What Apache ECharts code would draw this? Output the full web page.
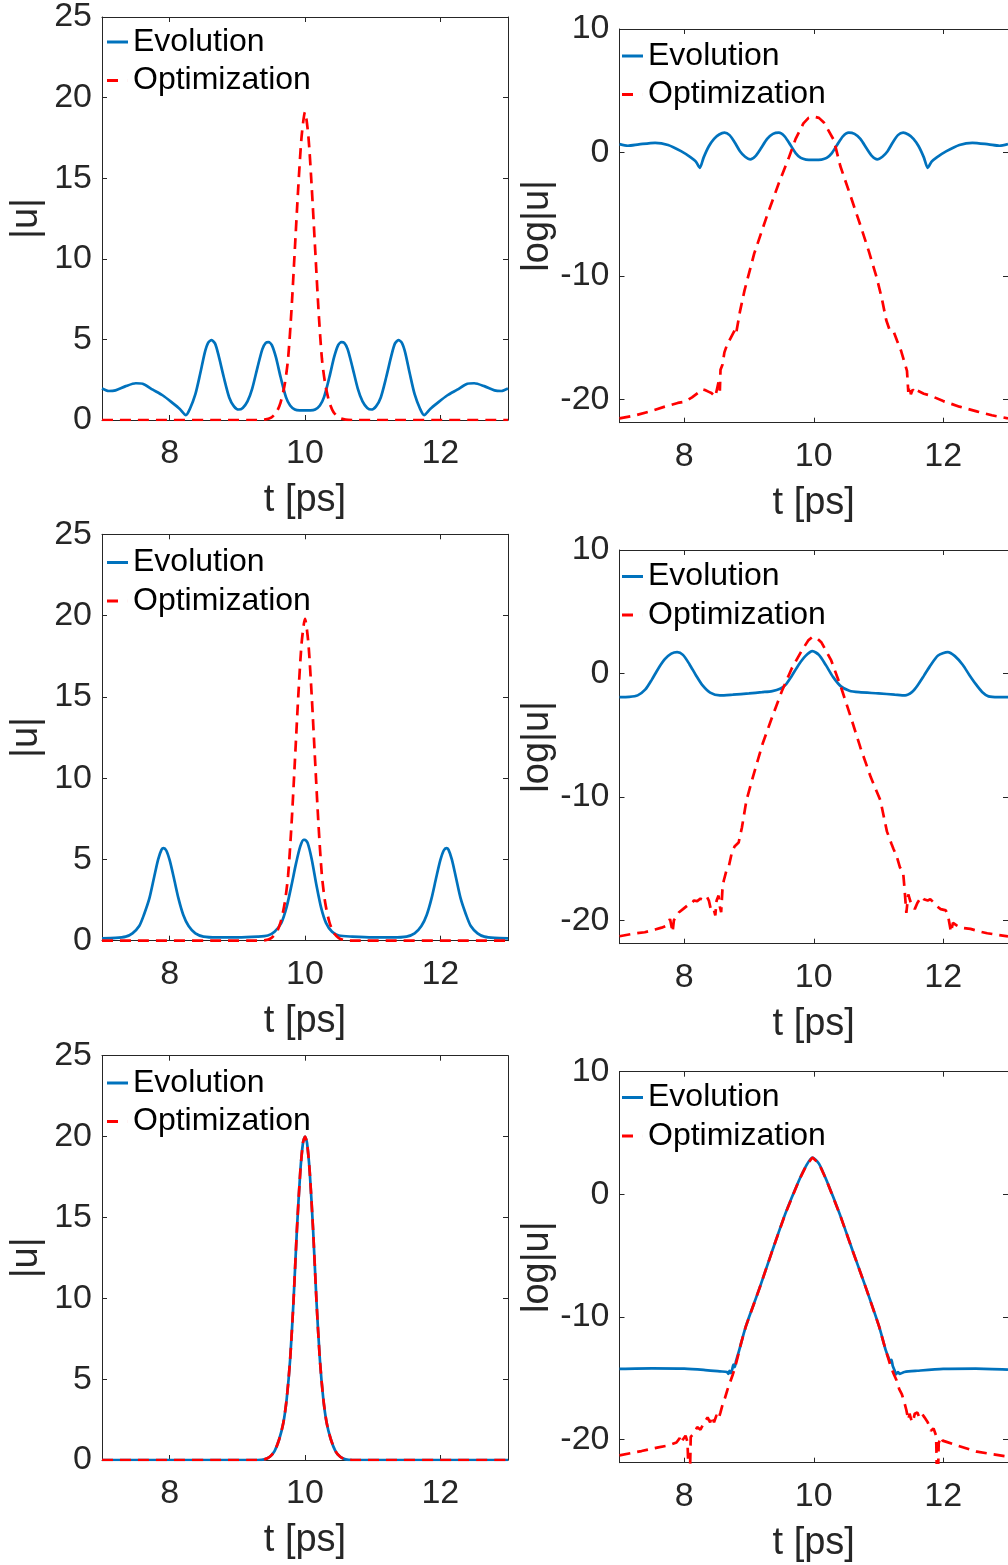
<!DOCTYPE html>
<html>
<head>
<meta charset="utf-8">
<script src="https://cdn.jsdelivr.net/npm/echarts@6/dist/echarts.min.js"></script>
<style>
html,body{margin:0;padding:0;background:#fff;overflow:hidden;}
#chart{width:1008px;height:1565px;}
</style>
</head>
<body>
<div id="chart"></div>
<script>
// ---------------- DATA ----------------
const tTicks = [8, 10, 12];
const linTicks = [0, 5, 10, 15, 20, 25];
const logTicks = [-20, -10, 0, 10];
const seriesNames = ['Evolution', 'Optimization'];
const xLabel = 't [ps]';
const yLabelLin = '|u|';
const yLabelLog = 'log|u|';

// Row 1, |u|
const r1LinEvo = [[7.00,1.95],[7.10,1.80],[7.20,1.84],[7.35,2.10],[7.50,2.28],[7.60,2.25],[7.75,1.88],[7.90,1.52],[8.05,1.03],[8.15,0.68],[8.24,0.30],[8.30,0.70],[8.38,1.60],[8.45,2.85],[8.52,4.20],[8.57,4.80],[8.62,4.95],[8.67,4.75],[8.72,4.05],[8.80,2.65],[8.88,1.40],[8.95,0.85],[9.02,0.65],[9.08,0.75],[9.15,1.15],[9.22,1.95],[9.30,3.30],[9.37,4.40],[9.42,4.78],[9.46,4.83],[9.51,4.65],[9.57,3.90],[9.64,2.65],[9.72,1.40],[9.78,0.90],[9.85,0.65],[9.92,0.60],[10.00,0.60],[10.08,0.60],[10.15,0.65],[10.22,0.90],[10.28,1.40],[10.36,2.65],[10.43,3.90],[10.49,4.65],[10.54,4.83],[10.58,4.78],[10.63,4.40],[10.70,3.30],[10.78,1.95],[10.85,1.15],[10.92,0.75],[10.98,0.65],[11.05,0.85],[11.12,1.40],[11.20,2.65],[11.28,4.05],[11.33,4.75],[11.38,4.95],[11.43,4.80],[11.48,4.20],[11.55,2.85],[11.62,1.60],[11.70,0.70],[11.76,0.30],[11.85,0.68],[11.95,1.03],[12.10,1.52],[12.25,1.88],[12.40,2.25],[12.50,2.28],[12.65,2.10],[12.80,1.84],[12.90,1.80],[13.00,1.95]];
const r1LinOpt = [[7.00,0],[9.30,0],[9.40,0.02],[9.50,0.15],[9.58,0.50],[9.64,1.10],[9.70,2.20],[9.75,3.80],[9.80,6.80],[9.85,10.60],[9.90,14.40],[9.95,17.60],[10.00,19.10],[10.05,17.60],[10.10,14.40],[10.15,10.60],[10.20,6.80],[10.25,3.80],[10.30,2.20],[10.36,1.10],[10.42,0.50],[10.50,0.15],[10.60,0.02],[10.70,0],[13.00,0]];

// Row 1, log|u|
const r1LogEvo = [[7.00,0.67],[7.13,0.54],[7.30,0.65],[7.55,0.78],[7.75,0.60],[7.95,0.10],[8.10,-0.40],[8.18,-0.75],[8.24,-1.25],[8.30,-0.40],[8.38,0.50],[8.46,1.10],[8.54,1.45],[8.62,1.60],[8.70,1.40],[8.78,0.80],[8.86,0.10],[8.94,-0.35],[9.02,-0.57],[9.10,-0.30],[9.18,0.30],[9.28,1.10],[9.37,1.50],[9.46,1.60],[9.55,1.30],[9.64,0.60],[9.72,-0.05],[9.80,-0.45],[9.88,-0.58],[10.00,-0.60],[10.12,-0.58],[10.20,-0.45],[10.28,-0.05],[10.36,0.60],[10.45,1.30],[10.54,1.60],[10.63,1.50],[10.72,1.10],[10.82,0.30],[10.90,-0.30],[10.98,-0.57],[11.06,-0.35],[11.14,0.10],[11.22,0.80],[11.30,1.40],[11.38,1.60],[11.46,1.45],[11.54,1.10],[11.62,0.50],[11.70,-0.40],[11.76,-1.25],[11.82,-0.75],[11.90,-0.40],[12.05,0.10],[12.25,0.60],[12.45,0.78],[12.70,0.65],[12.87,0.54],[13.00,0.67]];
const r1LogOpt = [[7.00,-21.55],[7.25,-21.30],[7.46,-21.00],[7.70,-20.60],[7.90,-20.30],[8.01,-20.20],[8.12,-19.85],[8.22,-19.45],[8.28,-19.20],[8.32,-19.25],[8.35,-19.15],[8.38,-19.40],[8.42,-19.50],[8.45,-19.45],[8.48,-19.80],[8.51,-19.70],[8.53,-18.60],[8.55,-19.30],[8.56,-17.60],[8.59,-17.20],[8.62,-16.20],[8.66,-15.60],[8.72,-15.00],[8.76,-14.60],[8.78,-14.40],[8.80,-14.70],[8.86,-12.90],[8.93,-11.20],[9.08,-8.20],[9.28,-5.10],[9.46,-2.50],[9.61,-0.50],[9.72,1.10],[9.84,2.35],[9.92,2.80],[10.00,2.90],[10.08,2.80],[10.16,2.40],[10.31,1.00],[10.41,-1.10],[10.56,-3.40],[10.72,-5.90],[10.85,-8.00],[10.97,-10.10],[11.05,-11.80],[11.12,-13.60],[11.18,-14.50],[11.21,-14.35],[11.24,-14.60],[11.29,-15.30],[11.35,-16.10],[11.40,-17.00],[11.44,-17.70],[11.46,-19.40],[11.48,-18.90],[11.50,-19.60],[11.53,-19.20],[11.56,-19.50],[11.60,-19.30],[11.70,-19.55],[11.80,-19.70],[12.00,-20.15],[12.25,-20.60],[12.53,-21.00],[12.75,-21.30],[13.00,-21.55]];

// Row 2, |u|
const r2LinEvo = [[7.00,0.14],[7.20,0.17],[7.35,0.25],[7.45,0.45],[7.55,0.90],[7.62,1.60],[7.70,2.60],[7.77,3.90],[7.83,5.00],[7.88,5.60],[7.91,5.70],[7.95,5.55],[8.00,4.95],[8.06,3.90],[8.13,2.60],[8.20,1.60],[8.28,0.90],[8.38,0.45],[8.50,0.25],[8.70,0.20],[9.00,0.20],[9.30,0.25],[9.45,0.32],[9.55,0.55],[9.65,1.10],[9.73,2.10],[9.80,3.40],[9.87,4.80],[9.93,5.80],[9.98,6.20],[10.00,6.20],[10.04,6.00],[10.10,5.00],[10.17,3.40],[10.24,2.00],[10.31,1.10],[10.40,0.55],[10.50,0.32],[10.70,0.25],[11.00,0.20],[11.30,0.20],[11.50,0.25],[11.62,0.45],[11.72,0.90],[11.80,1.60],[11.87,2.60],[11.94,3.90],[12.00,4.95],[12.05,5.55],[12.09,5.70],[12.12,5.60],[12.17,5.00],[12.23,3.90],[12.30,2.60],[12.38,1.60],[12.45,0.90],[12.55,0.45],[12.65,0.25],[12.80,0.17],[13.00,0.14]];
const r2LinOpt = [[7.00,0],[9.30,0],[9.40,0.02],[9.50,0.16],[9.58,0.52],[9.64,1.15],[9.70,2.30],[9.75,4.00],[9.80,7.10],[9.85,11.00],[9.90,15.00],[9.95,18.30],[10.00,19.80],[10.05,18.30],[10.10,15.00],[10.15,11.00],[10.20,7.10],[10.25,4.00],[10.30,2.30],[10.36,1.15],[10.42,0.52],[10.50,0.16],[10.60,0.02],[10.70,0],[13.00,0]];

// Row 2, log|u|
const r2LogEvo = [[7.00,-1.92],[7.15,-1.90],[7.28,-1.78],[7.40,-1.30],[7.50,-0.50],[7.60,0.40],[7.70,1.15],[7.80,1.60],[7.89,1.73],[7.98,1.50],[8.08,0.75],[8.18,-0.15],[8.28,-0.95],[8.40,-1.55],[8.55,-1.78],[8.75,-1.72],[9.00,-1.62],[9.20,-1.52],[9.36,-1.43],[9.48,-1.25],[9.56,-0.95],[9.66,-0.20],[9.76,0.65],[9.87,1.40],[9.98,1.81],[10.08,1.50],[10.19,0.65],[10.30,-0.30],[10.42,-1.05],[10.55,-1.40],[10.70,-1.52],[11.00,-1.62],[11.25,-1.72],[11.41,-1.78],[11.52,-1.50],[11.60,-1.00],[11.70,-0.20],[11.79,0.55],[11.92,1.45],[12.07,1.73],[12.18,1.40],[12.30,0.70],[12.40,-0.10],[12.50,-0.85],[12.60,-1.50],[12.70,-1.86],[12.85,-1.92],[13.00,-1.92]];
const r2LogOpt = [[7.00,-21.30],[7.20,-21.10],[7.39,-20.97],[7.55,-20.75],[7.65,-20.60],[7.72,-20.45],[7.76,-20.10],[7.78,-19.90],[7.80,-20.40],[7.82,-20.97],[7.84,-20.00],[7.88,-19.70],[7.92,-19.35],[7.98,-19.10],[8.05,-18.80],[8.10,-18.70],[8.15,-18.40],[8.20,-18.45],[8.25,-18.25],[8.30,-18.35],[8.35,-18.10],[8.38,-18.40],[8.41,-19.10],[8.45,-19.00],[8.48,-19.60],[8.50,-18.40],[8.53,-18.00],[8.55,-18.90],[8.57,-19.35],[8.59,-17.50],[8.61,-16.80],[8.65,-16.00],[8.69,-15.60],[8.74,-14.40],[8.78,-14.00],[8.84,-13.70],[8.89,-12.50],[8.96,-10.30],[9.06,-8.40],[9.21,-5.70],[9.36,-3.50],[9.51,-1.40],[9.66,0.40],[9.82,1.90],[9.92,2.70],[9.98,2.95],[10.05,2.85],[10.12,2.50],[10.27,1.05],[10.42,-1.10],[10.57,-3.50],[10.72,-6.00],[10.88,-8.40],[11.03,-10.30],[11.13,-12.80],[11.20,-13.80],[11.23,-14.20],[11.28,-14.80],[11.33,-15.70],[11.38,-16.10],[11.40,-17.30],[11.43,-19.40],[11.46,-17.90],[11.50,-18.60],[11.53,-18.50],[11.56,-19.10],[11.60,-18.60],[11.66,-18.10],[11.70,-18.30],[11.76,-18.40],[11.80,-18.30],[11.84,-18.50],[11.88,-18.70],[11.91,-18.90],[11.96,-19.10],[12.04,-19.20],[12.08,-19.80],[12.12,-20.97],[12.15,-20.20],[12.20,-20.40],[12.27,-20.60],[12.42,-20.70],[12.55,-20.90],[12.68,-21.05],[12.80,-21.15],[13.00,-21.30]];

// Row 3, |u|
const r3LinEvo = [[7.00,0],[9.30,0],[9.40,0.04],[9.48,0.20],[9.55,0.55],[9.62,1.30],[9.68,2.30],[9.73,3.80],[9.78,6.20],[9.83,9.80],[9.88,14.20],[9.93,17.80],[9.97,19.60],[10.00,20.00],[10.03,19.60],[10.07,17.80],[10.12,14.20],[10.17,9.80],[10.22,6.20],[10.27,3.80],[10.32,2.30],[10.38,1.30],[10.45,0.55],[10.52,0.20],[10.60,0.04],[10.70,0],[13.00,0]];
const r3LinOpt = [[7.00,0],[9.30,0],[9.40,0.04],[9.48,0.20],[9.55,0.55],[9.62,1.30],[9.68,2.30],[9.73,3.80],[9.78,6.20],[9.83,9.80],[9.88,14.20],[9.93,17.80],[9.97,19.60],[10.00,20.00],[10.03,19.60],[10.07,17.80],[10.12,14.20],[10.17,9.80],[10.22,6.20],[10.27,3.80],[10.32,2.30],[10.38,1.30],[10.45,0.55],[10.52,0.20],[10.60,0.04],[10.70,0],[13.00,0]];

// Row 3, log|u|
const r3LogEvo = [[7.00,-14.24],[7.50,-14.20],[8.00,-14.22],[8.30,-14.32],[8.55,-14.45],[8.66,-14.50],[8.68,-14.65],[8.70,-14.40],[8.72,-14.60],[8.74,-14.30],[8.76,-13.90],[8.78,-14.10],[8.80,-13.60],[8.85,-12.70],[8.95,-10.80],[9.16,-7.70],[9.36,-4.60],[9.56,-1.60],[9.77,1.10],[9.88,2.30],[9.98,3.00],[10.08,2.50],[10.20,1.10],[10.40,-1.60],[10.60,-4.60],[10.81,-7.70],[11.01,-10.80],[11.11,-12.70],[11.16,-13.40],[11.18,-13.70],[11.20,-13.50],[11.22,-14.00],[11.25,-14.40],[11.27,-14.70],[11.30,-14.50],[11.33,-14.65],[11.40,-14.50],[11.60,-14.40],[12.00,-14.25],[12.50,-14.22],[13.00,-14.30]];
const r3LogOpt = [[7.00,-21.30],[7.34,-20.95],[7.60,-20.65],[7.75,-20.50],[7.88,-20.25],[7.93,-19.90],[7.95,-20.30],[7.98,-20.00],[8.02,-19.70],[8.05,-20.20],[8.08,-25.00],[8.10,-19.80],[8.15,-19.50],[8.20,-19.00],[8.25,-19.20],[8.30,-18.70],[8.36,-18.20],[8.40,-18.60],[8.43,-18.10],[8.46,-18.60],[8.50,-18.00],[8.53,-18.30],[8.56,-17.80],[8.60,-17.00],[8.63,-16.60],[8.67,-15.90],[8.71,-15.30],[8.75,-14.70],[8.78,-14.20],[8.82,-13.40],[8.88,-12.10],[8.95,-10.80],[9.16,-7.70],[9.36,-4.60],[9.56,-1.60],[9.77,1.10],[9.88,2.30],[9.98,3.00],[10.08,2.50],[10.20,1.10],[10.40,-1.60],[10.60,-4.60],[10.81,-7.70],[11.01,-10.80],[11.11,-12.70],[11.18,-13.90],[11.23,-14.60],[11.28,-15.20],[11.32,-15.90],[11.36,-16.30],[11.40,-17.00],[11.43,-17.60],[11.46,-18.40],[11.48,-17.90],[11.50,-18.30],[11.53,-18.60],[11.56,-17.90],[11.60,-17.80],[11.63,-18.20],[11.67,-17.90],[11.71,-18.20],[11.76,-18.60],[11.81,-19.30],[11.85,-19.10],[11.89,-19.70],[11.91,-25.00],[11.93,-20.30],[11.96,-19.80],[11.99,-20.10],[12.05,-20.20],[12.22,-20.50],[12.52,-21.00],[12.75,-21.20],[13.00,-21.40]];

// ---------------- LAYOUT / STYLE ----------------
const FONT = '"Liberation Sans", Arial, Helvetica, sans-serif';
const AX = '#262626';
const BLUE = '#0072BD';
const RED = '#FF0000';
const FS_TICK = 34;
const FS_NAME = 38;
const FS_LEG = 32;
const LW = 2.7;

const panels = [
  {g:{left:102, top:14.5, width:406, height:405.5}, kind:'lin', evo:r1LinEvo, opt:r1LinOpt, leg:{left:107, top:26}},
  {g:{left:619.5, top:29, width:394, height:393.7}, kind:'log', evo:r1LogEvo, opt:r1LogOpt, leg:{left:622, top:40}},
  {g:{left:102, top:534.3, width:406, height:406.4}, kind:'lin', evo:r2LinEvo, opt:r2LinOpt, leg:{left:107, top:546.5}},
  {g:{left:619.5, top:550, width:394, height:393.7}, kind:'log', evo:r2LogEvo, opt:r2LogOpt, leg:{left:622, top:560.5}},
  {g:{left:102, top:1055.7, width:406, height:404.3}, kind:'lin', evo:r3LinEvo, opt:r3LinOpt, leg:{left:107, top:1067}},
  {g:{left:619.5, top:1071.7, width:394, height:391}, kind:'log', evo:r3LogEvo, opt:r3LogOpt, leg:{left:622, top:1081.5}}
];

const grids = [], xAxes = [], yAxes = [], series = [], legends = [];
panels.forEach((p, i) => {
  grids.push(Object.assign({containLabel:false}, p.g));
  ['bottom','top'].forEach(pos => {
    const main = pos === 'bottom';
    xAxes.push({
      type:'value', gridIndex:i, position:pos, min:7, max:13,
      axisLine:{show:true, onZero:false, lineStyle:{color:AX, width:1}},
      axisTick:{show:true, inside:true, length:5, customValues:tTicks, lineStyle:{color:AX, width:1}},
      axisLabel:{show:main, customValues:tTicks, margin:17, fontSize:FS_TICK, color:AX, fontFamily:FONT},
      splitLine:{show:false},
      name: main ? xLabel : '', nameLocation:'middle', nameGap:62,
      nameTextStyle:{fontSize:FS_NAME, color:AX, fontFamily:FONT}
    });
  });
  const isLog = p.kind === 'log';
  const ticks = isLog ? logTicks : linTicks;
  ['left','right'].forEach(pos => {
    const main = pos === 'left';
    yAxes.push({
      type:'value', gridIndex:i, position:pos,
      min: isLog ? -21.9 : 0, max: isLog ? 10 : 25,
      axisLine:{show:true, onZero:false, lineStyle:{color:AX, width:1}},
      axisTick:{show:true, inside:true, length:5, customValues:ticks, lineStyle:{color:AX, width:1}},
      axisLabel:{show:main, customValues:ticks, margin:10, fontSize:FS_TICK, color:AX, fontFamily:FONT},
      splitLine:{show:false},
      name: main ? (isLog ? yLabelLog : yLabelLin) : '', nameLocation:'middle', nameGap: isLog ? 63 : 56,
      nameTextStyle:{fontSize:FS_NAME, color:AX, fontFamily:FONT}
    });
  });
  series.push({
    type:'line', name:seriesNames[0], xAxisIndex:2*i, yAxisIndex:2*i, data:p.evo,
    symbol:'none', showSymbol:false, smooth: 0.25, clip:true,
    lineStyle:{color:BLUE, width:LW}, itemStyle:{color:BLUE}, z:2
  });
  series.push({
    type:'line', name:seriesNames[1], xAxisIndex:2*i, yAxisIndex:2*i, data:p.opt,
    symbol:'none', showSymbol:false, smooth: isLog ? false : 0.25, clip:true,
    lineStyle:{color:RED, width:LW, type:[11,7]}, itemStyle:{color:RED}, z:3
  });
  legends.push({
    orient:'vertical', left:p.leg.left, top:p.leg.top, padding:0, itemGap:6.5,
    itemWidth:21, itemHeight:3, selectedMode:false,
    data:[
      {name:seriesNames[0], icon:'path://M0,0H21V3H0Z'},
      {name:seriesNames[1], icon:'path://M0,0H11V3H0Z M20.96,0H21V3H20.96Z'}
    ],
    textStyle:{fontSize:FS_LEG, color:'#000', fontFamily:FONT, lineHeight:32}
  });
});

const chart = echarts.init(document.getElementById('chart'), null, {renderer:'canvas', width:1008, height:1565});
chart.setOption({
  animation:false,
  backgroundColor:'#fff',
  grid:grids, xAxis:xAxes, yAxis:yAxes, series:series, legend:legends
});
</script>
</body>
</html>
